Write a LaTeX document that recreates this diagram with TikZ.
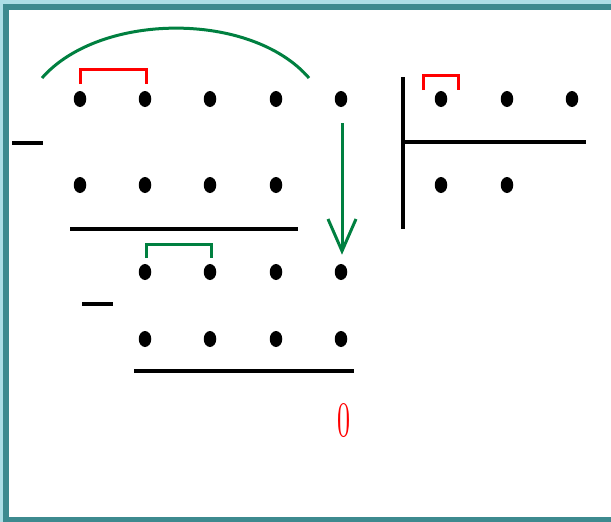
\documentclass[tikz,border=0pt]{standalone}
\usepackage{graphicx}
\usetikzlibrary{shapes.geometric}
\definecolor{outerbg}{RGB}{172,222,230}
\definecolor{frame}{RGB}{61,138,143}
\definecolor{dgreen}{RGB}{0,128,64}
\definecolor{dred}{RGB}{255,0,0}
\tikzset{
  dot/.style={ellipse, fill=black, minimum width=12.5pt, minimum height=16pt, inner sep=0pt},
  bar/.style={line width=3.5pt, black},
  gbr/.style={line width=3pt, dgreen},
  rbr/.style={line width=3pt, dred},
}
\begin{document}
\begin{tikzpicture}[x=1pt,y=-1pt]
\useasboundingbox (0,0) rectangle (611,522);
% background and frame
\fill[outerbg] (0,0) rectangle (611,522);
\fill[frame] (3,4) rectangle (611,522);
\fill[white] (9,10) rectangle (611,517);
% dots, first block
\foreach \x [count=\i] in {80,145,210,276,341} \node[dot] (a\i) at (\x,99) {};
\foreach \x [count=\i] in {80,145,210,276} \node[dot] (b\i) at (\x,185) {};
% second block
\foreach \x [count=\i] in {145,210,276,341} \node[dot] (c\i) at (\x,272) {};
\foreach \x [count=\i] in {145,210,276,341} \node[dot] (d\i) at (\x,339) {};
% right block
\foreach \x [count=\i] in {441,507,572} \node[dot] (q\i) at (\x,99) {};
\foreach \x [count=\i] in {441,507} \node[dot] (r\i) at (\x,185) {};
% minus signs and lines
\draw[bar] (12,143) -- (43,143);
\draw[bar] (70,229) -- (298,229);
\draw[bar] (82,304) -- (113,304);
\draw[bar] (134,371) -- (354,371);
\draw[bar] (403,77) -- (403,229);
\draw[bar] (403,142) -- (586,142);
% brackets
\draw[rbr] (80,84) -- (80,69) -- (146,69) -- (146,84);
\draw[gbr] (146,258) -- (146,244) -- (211,244) -- (211,258);
\draw[rbr] (423,90) -- (423,75) -- (458,75) -- (458,90);
% green arc
\draw[gbr] (42,78) .. controls (100,12) and (251,11) .. (309,78);
% arrow
\coordinate (s) at (342,123);
\coordinate (e) at (342,251);
\draw[gbr] (s) -- (e);
\draw[gbr, line join=miter] (328,219) -- (e) -- (356,219);
% zero
\node[text=dred, inner sep=0pt] (z) at (344,421) {\resizebox{13pt}{33pt}{0}};
\end{tikzpicture}
\end{document}
